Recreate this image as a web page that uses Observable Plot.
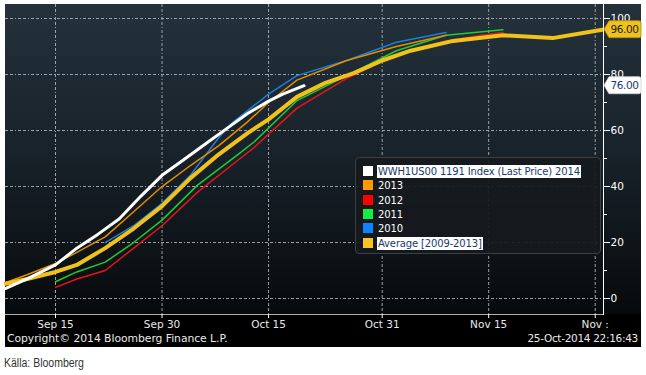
<!DOCTYPE html>
<html><head><meta charset="utf-8">
<script src="https://cdn.jsdelivr.net/npm/d3@7"></script>
<script src="https://cdn.jsdelivr.net/npm/@observablehq/plot@0.6"></script>
<style>
body{margin:0;background:#fff;width:646px;height:375px;overflow:hidden;font-family:"DejaVu Sans",sans-serif}
#wrap{position:relative;width:646px;height:375px}
#panel{position:absolute;left:5px;top:4px;width:636px;height:343px;background:linear-gradient(to bottom,#24313b 0px,#18222a 150px,#070a0c 310px,#000 310px,#000 343px)}
#chart{position:absolute;left:0;top:0}
#legend{position:absolute;left:355px;top:157px;width:246px;height:97px;background:rgba(22,26,30,0.93);border:1px solid #3a3f44;border-radius:4px;box-sizing:border-box}
.li{position:absolute;left:7px;height:13px;font-size:10px;line-height:13px;color:#fff;white-space:nowrap;letter-spacing:-0.15px}
.li .sw{position:absolute;left:0;top:1px;width:10px;height:10px}
.li .tx{position:absolute;left:14px;top:0;padding:0 1px}
.li .hl{background:#fff;color:#1b3a6b}
#copy{position:absolute;left:7px;top:332px;font-size:10.8px;color:#e8e8e8;letter-spacing:-0.05px}
#stamp{position:absolute;right:8px;top:332px;font-size:10.5px;color:#e8e8e8;letter-spacing:-0.3px}
#src{position:absolute;left:4px;top:356px;font-size:12.5px;color:#333;font-family:"Liberation Sans",sans-serif;transform:scaleX(0.84);transform-origin:0 0}
</style></head>
<body><div id="wrap"><div id="panel"></div><div id="chart"></div><div id="legend"></div>
<div id="copy">Copyright© 2014 Bloomberg Finance L.P.</div>
<div id="stamp">25-Oct-2014 22:16:43</div>
<div id="src">Källa: Bloomberg</div></div>
<script>
// ---- data ----
const dates2014 = ["2014-09-08","2014-09-11","2014-09-15","2014-09-18","2014-09-21","2014-09-24","2014-09-27","2014-09-30","2014-10-03","2014-10-06","2014-10-09","2014-10-12","2014-10-15","2014-10-17","2014-10-20"];
const vals2014  = [3.6,7,12,18,23,28.5,36.5,44,49.5,55,60.5,66,70.5,73,76];

const dates2013 = ["2014-09-08","2014-09-11","2014-09-15","2014-09-18","2014-09-22","2014-09-26","2014-09-30","2014-10-04","2014-10-08","2014-10-12","2014-10-15","2014-10-19","2014-10-26","2014-11-02","2014-11-09"];
const vals2013  = [5.7,8.5,12.5,16.5,22,31,40,47.5,54.6,63,70,78,85,90,94];

const dates2012 = ["2014-09-15","2014-09-18","2014-09-22","2014-09-26","2014-09-30","2014-10-05","2014-10-11","2014-10-13","2014-10-19","2014-10-26","2014-11-02","2014-11-09","2014-11-14","2014-11-17"];
const vals2012  = [4,7,10,18,26,38,50,54,68,78.6,87,92,94,95];

const dates2011 = ["2014-09-15","2014-09-18","2014-09-22","2014-09-26","2014-09-30","2014-10-05","2014-10-11","2014-10-13","2014-10-19","2014-10-26","2014-11-02","2014-11-09","2014-11-17"];
const vals2011  = [6,9.5,13,20,28,40.5,52,56,70.7,79.6,88.5,94,96];

const dates2010 = ["2014-09-22","2014-09-26","2014-09-30","2014-10-04","2014-10-08","2014-10-10","2014-10-15","2014-10-19","2014-10-26","2014-11-02","2014-11-09"];
const vals2010  = [20,26,34,44,57.5,63,73,79.6,85,91.5,95];

const datesAvg = ["2014-09-08","2014-09-11","2014-09-15","2014-09-18","2014-09-22","2014-09-26","2014-09-30","2014-10-04","2014-10-08","2014-10-12","2014-10-15","2014-10-19","2014-10-23","2014-10-27","2014-10-31","2014-11-04","2014-11-10","2014-11-17","2014-11-24","2014-12-01"];
const valsAvg  = [5.3,7,9.5,12,18,25,33,43,51.5,59,64,72,77,80.5,85,88.5,92,94,93,96];

const seriesNames = ["WWH1US00 1191 Index (Last Price) 2014","2013","2012","2011","2010","Average [2009-2013]"];
const legendColors = ["#ffffff","#ff9900","#ff0000","#11ee44","#0a84ff","#f7c525"];
const lineColors  = ["#ffffff","#e58c00","#e8141a","#1fcc33","#1a7fd8","#f2c21c"];

const xTickDates  = ["2014-09-15","2014-09-30","2014-10-15","2014-10-31","2014-11-15","2014-11-30"];
const xTickLabels = ["Sep 15","Sep 30","Oct 15","Oct 31","Nov 15","Nov :"];
const yTicks = [0,20,40,60,80,100];
const yMinorTicks = [10,30,50,70,90];
const lastLabels = [{value:96, text:"96.00"},{value:76, text:"76.00"}];

// ---- build table ----
const parse = d3.utcParse("%Y-%m-%d");
function rows(ds, vs, s){ return ds.map((d,i)=>({date:parse(d), value:vs[i], series:s})); }
const s2014 = rows(dates2014, vals2014, "2014");
const s2013 = rows(dates2013, vals2013, "2013");
const s2012 = rows(dates2012, vals2012, "2012");
const s2011 = rows(dates2011, vals2011, "2011");
const s2010 = rows(dates2010, vals2010, "2010");
const sAvg  = rows(datesAvg, valsAvg, "avg");
const xTicks = xTickDates.map(parse);

const grid = {stroke:"#9ea3a7", strokeOpacity:1, strokeWidth:1, strokeDasharray:"3,2,3,2,1,2"};

const plot = Plot.plot({
  width:646, height:347,
  marginLeft:5, marginRight:43, marginTop:4, marginBottom:33,
  style:{background:"transparent", fontFamily:"DejaVu Sans, sans-serif", fontSize:"10px", color:"#fff"},
  x:{type:"utc", domain:[new Date(Date.UTC(2014,8,7,23)), new Date(Date.UTC(2014,11,1,4))], label:null},
  y:{domain:[-5.7,105], label:null},
  marks:[
    Plot.gridX(xTicks, grid),
    Plot.gridY(yTicks, grid),
    Plot.line(s2010,{x:"date",y:"value",stroke:lineColors[4],strokeWidth:1.5}),
    Plot.line(s2011,{x:"date",y:"value",stroke:lineColors[3],strokeWidth:1.5}),
    Plot.line(s2012,{x:"date",y:"value",stroke:lineColors[2],strokeWidth:1.5}),
    Plot.line(s2013,{x:"date",y:"value",stroke:lineColors[1],strokeWidth:1.5}),
    Plot.line(sAvg,{x:"date",y:"value",stroke:lineColors[5],strokeWidth:4}),
    Plot.line(s2014,{x:"date",y:"value",stroke:lineColors[0],strokeWidth:3}),
    Plot.frame({anchor:"bottom", stroke:"#b0b0b0"}),
    Plot.frame({anchor:"right", stroke:"#ffffff"}),
    Plot.axisX({ticks:xTicks, tickFormat:(d,i)=>xTickLabels[i], tickSize:4, tickPadding:2, stroke:"#fff", fill:"#e8e8e8", fontSize:10.5, label:null}),
    Plot.axisY({anchor:"right", ticks:yTicks, tickSize:6, tickPadding:1, stroke:"#fff", fill:"#fff", fontSize:10.5, label:null}),
    Plot.axisY({anchor:"right", ticks:yMinorTicks, tickSize:3, tickFormat:()=>"", stroke:"#fff", label:null})
  ]
});
document.getElementById("chart").appendChild(plot);

// value tags at the right axis, positioned through the plot's scales
const svg = d3.select(plot);
const yS = plot.scale("y");
const xS = plot.scale("x");
const xEdge = xS.range[1];
const tagFill = ["#f2c21c","#ffffff"];
const tagStroke = ["#b08a10","#d0d0d0"];
lastLabels.forEach((l,i)=>{
  const cy = yS.apply(l.value);
  const x0 = xEdge + 1, w = 37, h = 17;
  const g = svg.append("g");
  g.append("path")
   .attr("d",`M${x0},${cy} L${x0+5},${cy-h/2} L${x0+w-2},${cy-h/2} Q${x0+w},${cy-h/2} ${x0+w},${cy-h/2+2} L${x0+w},${cy+h/2-2} Q${x0+w},${cy+h/2} ${x0+w-2},${cy+h/2} L${x0+5},${cy+h/2} Z`)
   .attr("fill",tagFill[i]).attr("stroke",tagStroke[i]).attr("stroke-width",0.8);
  g.append("text").attr("x",x0+w/2+2).attr("y",cy).attr("dy","0.36em").attr("text-anchor","middle")
   .attr("font-size",10.5).attr("font-family","DejaVu Sans, sans-serif").attr("letter-spacing","-0.4")
   .attr("fill", i===0 ? "#222" : "#1b3a6b").text(l.text);
});

// legend
const lg = document.getElementById("legend");
seriesNames.forEach((n,i)=>{
  const d = document.createElement("div");
  d.className="li"; d.style.top = (7 + i*14.3)+"px";
  const hl = (i===0 || i===5) ? " hl" : "";
  d.innerHTML = `<span class="sw" style="background:${legendColors[i]}"></span><span class="tx${hl}">${n}</span>`;
  lg.appendChild(d);
});
</script></body></html>
